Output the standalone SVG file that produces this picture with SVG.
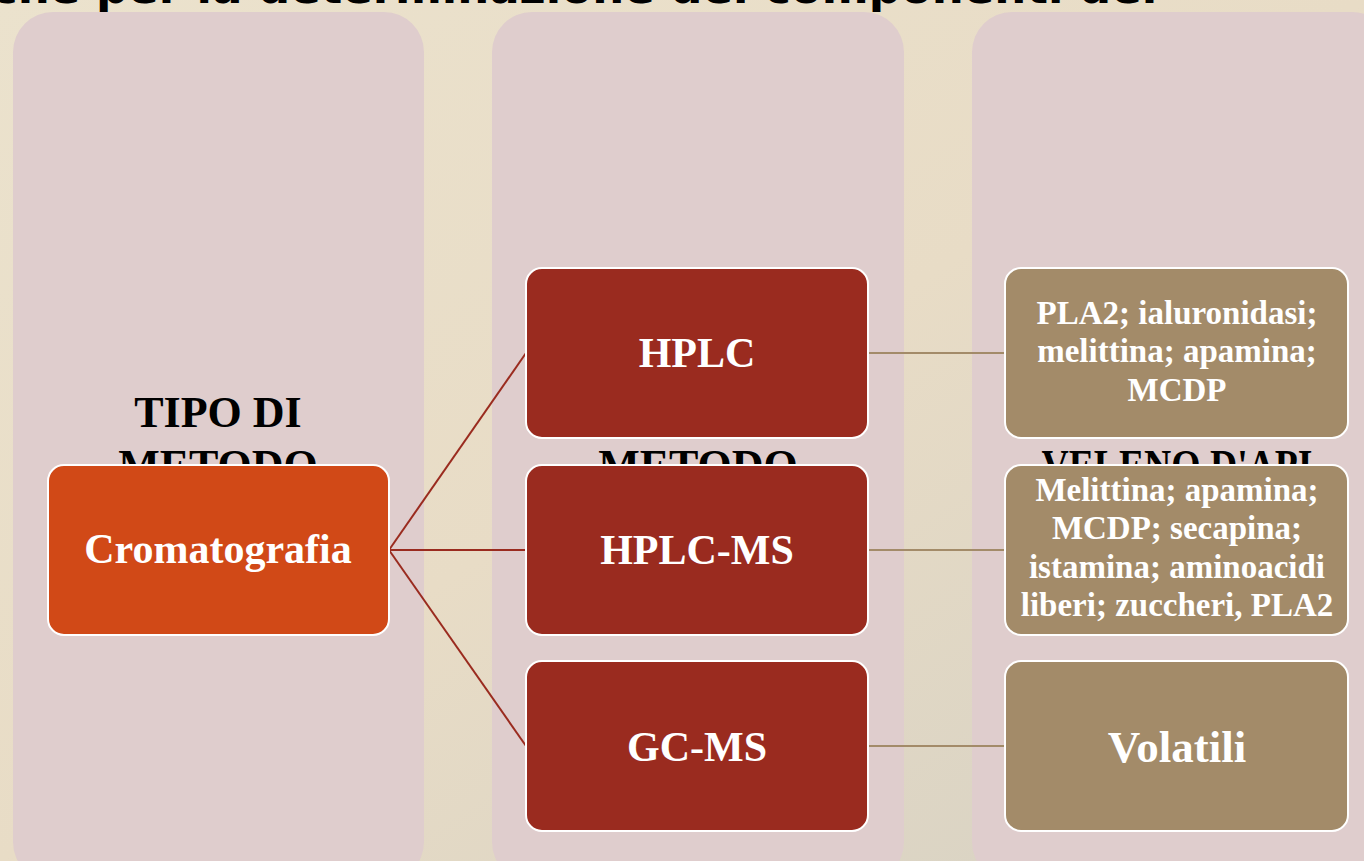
<svg xmlns="http://www.w3.org/2000/svg" width="1364" height="861" viewBox="0 0 1364 861">
<defs>
<linearGradient id="bg" x1="0" y1="0" x2="1" y2="1">
<stop offset="0" stop-color="#ebe2cd"/>
<stop offset="0.5" stop-color="#e8dcc6"/>
<stop offset="1" stop-color="#d6d1c3"/>
</linearGradient>
<style>
.panel{fill:#dfcdcd;}
.hdr{font-family:"Liberation Serif","DejaVu Serif",serif;font-weight:bold;font-size:44px;fill:#000;text-anchor:middle;}
.n1{fill:#d14917;stroke:#fff;stroke-width:2;}
.n2{fill:#9a2b1f;stroke:#fff;stroke-width:2;}
.n3{fill:#a38b69;stroke:#fff;stroke-width:2;}
.big{font-family:"Liberation Serif","DejaVu Serif",serif;font-weight:bold;font-size:42px;fill:#fff;text-anchor:middle;}
.sm{font-family:"Liberation Serif","DejaVu Serif",serif;font-weight:bold;font-size:33px;fill:#fff;text-anchor:middle;}
.c1{stroke:#9a2b1f;stroke-width:2;fill:none;}
.c2{stroke:#a38b69;stroke-width:2;fill:none;}
</style>
</defs>
<rect x="0" y="0" width="1364" height="861" fill="url(#bg)"/>
<text x="-9" y="3" font-family="'DejaVu Sans',Verdana,sans-serif" font-weight="bold" font-size="45" fill="#000">che per la determinazione dei componenti del</text>
<g id="panels">
<rect class="panel" x="13" y="12" width="411" height="870" rx="40"/>
<rect class="panel" x="492" y="12" width="412" height="870" rx="40"/>
<rect class="panel" x="972" y="12" width="420" height="870" rx="40"/>
<text class="hdr" x="218" y="427">TIPO DI</text>
<text class="hdr" x="218" y="480">METODO</text>
<text class="hdr" x="698" y="480">METODO</text>
<text class="hdr" x="1177" y="480" textLength="271" lengthAdjust="spacingAndGlyphs">VELENO D'API</text>
</g>
<g id="connectors">
<line class="c1" x1="389" y1="550" x2="526" y2="353"/>
<line class="c1" x1="389" y1="550" x2="526" y2="550"/>
<line class="c1" x1="389" y1="550" x2="526" y2="746"/>
<line class="c2" x1="868" y1="353" x2="1005" y2="353"/>
<line class="c2" x1="868" y1="550" x2="1005" y2="550"/>
<line class="c2" x1="868" y1="746" x2="1005" y2="746"/>
</g>
<g id="cromatografia">
<rect class="n1" x="48" y="465" width="341" height="170" rx="16"/>
<text class="big" x="218" y="563">Cromatografia</text>
</g>
<g id="hplc">
<rect class="n2" x="526" y="268" width="342" height="170" rx="16"/>
<text class="big" x="697" y="367">HPLC</text>
</g>
<g id="hplcms">
<rect class="n2" x="526" y="465" width="342" height="170" rx="16"/>
<text class="big" x="697" y="564">HPLC-MS</text>
</g>
<g id="gcms">
<rect class="n2" x="526" y="661" width="342" height="170" rx="16"/>
<text class="big" x="697" y="761">GC-MS</text>
</g>
<g id="v1">
<rect class="n3" x="1005" y="268" width="343" height="170" rx="16"/>
<text class="sm" x="1177" y="324">PLA2; ialuronidasi;</text>
<text class="sm" x="1177" y="362">melittina; apamina;</text>
<text class="sm" x="1177" y="401">MCDP</text>
</g>
<g id="v2">
<rect class="n3" x="1005" y="465" width="343" height="170" rx="16"/>
<text class="sm" x="1177" y="501">Melittina; apamina;</text>
<text class="sm" x="1177" y="539">MCDP; secapina;</text>
<text class="sm" x="1177" y="578">istamina; aminoacidi</text>
<text class="sm" x="1177" y="616">liberi; zuccheri, PLA2</text>
</g>
<g id="v3">
<rect class="n3" x="1005" y="661" width="343" height="170" rx="16"/>
<text class="big" x="1177" y="762" style="font-size:45px">Volatili</text>
</g>
</svg>
